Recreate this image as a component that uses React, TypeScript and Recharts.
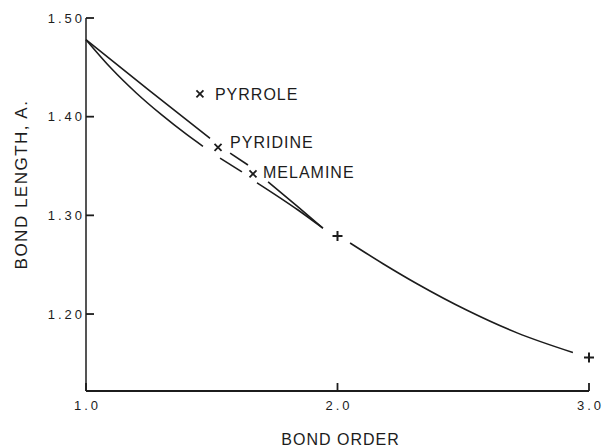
import { ComposedChart, Line, Scatter, XAxis, YAxis } from 'recharts';

const INK = '#1c1c1c';
const FONT = '"Liberation Sans", Arial, sans-serif';

const xTicks = [1, 2, 3];
const yTicks = [1.2, 1.3, 1.4, 1.5];

// upper curve (nearly straight), broken where the markers sit
const upperAX = [1.0, 1.25, 1.493];
const upperAY = [1.478, 1.427, 1.378];
const upperBX = [1.573, 1.644];
const upperBY = [1.363, 1.351];
const upperCX = [1.724, 1.843, 1.942];
const upperCY = [1.334, 1.3085, 1.287];

// lower curve (bowed), broken the same way
const lowerAX = [1.0, 1.1, 1.2, 1.3, 1.4, 1.465];
const lowerAY = [1.478, 1.449, 1.424, 1.402, 1.382, 1.370];
const lowerBX = [1.533, 1.62];
const lowerBY = [1.358, 1.344];
const lowerCX = [1.68, 1.843, 1.942];
const lowerCY = [1.333, 1.3054, 1.287];

// curve beyond bond order 2
const tailX = [2.05, 2.181, 2.316, 2.515, 2.714, 2.936];
const tailY = [1.272, 1.251, 1.2307, 1.2038, 1.1809, 1.161];

const markerNames = ['PYRROLE', 'PYRIDINE', 'MELAMINE', '', ''];
const markerX = [1.453, 1.525, 1.664, 2.0, 3.0];
const markerY = [1.423, 1.369, 1.342, 1.279, 1.156];
const markerKind = ['x', 'x', 'x', '+', '+'];

const pts = (xs: number[], ys: number[]) => xs.map((x, i) => ({ x, y: ys[i] }));

const segments = [
  pts(upperAX, upperAY),
  pts(upperBX, upperBY),
  pts(upperCX, upperCY),
  pts(lowerAX, lowerAY),
  pts(lowerBX, lowerBY),
  pts(lowerCX, lowerCY),
  pts(tailX, tailY),
];

const markers = markerX.map((x, i) => ({
  x,
  y: markerY[i],
  name: markerNames[i],
  kind: markerKind[i],
}));

// where each name sits relative to its marker
const labelShift: Record<string, [number, number]> = {
  PYRROLE: [15, 0],
  PYRIDINE: [12, -5],
  MELAMINE: [10, -2],
};

function Marker(props: any) {
  const { cx, cy, payload } = props;
  if (cx == null || cy == null) return null;
  const shift = labelShift[payload.name] || [0, 0];
  return (
    <g>
      {payload.kind === 'x' ? (
        <path
          d={`M${cx - 3.5},${cy - 3.5}L${cx + 3.5},${cy + 3.5}M${cx - 3.5},${cy + 3.5}L${cx + 3.5},${cy - 3.5}`}
          stroke={INK}
          strokeWidth={1.8}
        />
      ) : (
        <path
          d={`M${cx - 5},${cy}L${cx + 5},${cy}M${cx},${cy - 5}L${cx},${cy + 5}`}
          stroke={INK}
          strokeWidth={2}
        />
      )}
      {payload.name && (
        <text
          x={cx + shift[0]}
          y={cy + shift[1] + 6}
          fontFamily={FONT}
          fontSize={16}
          letterSpacing={1}
          fill={INK}
        >
          {payload.name}
        </text>
      )}
    </g>
  );
}

function YTick(props: any) {
  const { x, y, payload } = props;
  return (
    <g>
      <line x1={x} x2={x + 8} y1={y} y2={y} stroke={INK} strokeWidth={1.8} />
      <text x={x - 1} y={y + 4.5} textAnchor="end" fontFamily={FONT} fontSize={13} letterSpacing={3} fill={INK}>
        {payload.value.toFixed(2)}
      </text>
    </g>
  );
}

function XTick(props: any) {
  const { x, y, payload } = props;
  return (
    <g>
      <line x1={x} x2={x} y1={y} y2={y - 8} stroke={INK} strokeWidth={1.8} />
      <text x={x + 1.5} y={y + 19} textAnchor="middle" fontFamily={FONT} fontSize={13} letterSpacing={3} fill={INK}>
        {payload.value.toFixed(1)}
      </text>
    </g>
  );
}

export default function App() {
  return (
    <div style={{ position: 'absolute', left: 0, top: 0, background: '#fff' }}>
      <ComposedChart width={605} height={447} margin={{ top: 18, right: 16, left: 0, bottom: 0 }}>
        <XAxis
          dataKey="x"
          type="number"
          domain={[1, 3]}
          ticks={xTicks}
          height={56}
          tickSize={0}
          tickMargin={0}
          tickLine={false}
          tick={<XTick />}
          axisLine={{ stroke: INK, strokeWidth: 2 }}
          label={(p: any) => {
            const vb = p.viewBox || {};
            return (
              <text
                x={vb.x + vb.width / 2 + 3}
                y={vb.y + vb.height - 2}
                textAnchor="middle"
                fontFamily={FONT}
                fontSize={16}
                letterSpacing={1}
                fill={INK}
              >
                BOND ORDER
              </text>
            );
          }}
        />
        <YAxis
          dataKey="y"
          type="number"
          domain={[1.122, 1.5]}
          ticks={yTicks}
          width={86}
          tickSize={0}
          tickMargin={0}
          tickLine={false}
          tick={<YTick />}
          axisLine={{ stroke: INK, strokeWidth: 1.5 }}
          label={(p: any) => {
            const vb = p.viewBox || {};
            const cx = 27;
            const cy = vb.y + vb.height / 2 - 20;
            return (
              <text
                x={cx}
                y={cy}
                transform={`rotate(-90 ${cx} ${cy})`}
                textAnchor="middle"
                fontFamily={FONT}
                fontSize={17}
                letterSpacing={1.5}
                fill={INK}
              >
                BOND LENGTH, A.
              </text>
            );
          }}
        />
        {segments.map((seg, i) => (
          <Line
            key={i}
            data={seg}
            dataKey="y"
            type="monotone"
            stroke={INK}
            strokeWidth={1.6}
            dot={false}
            activeDot={false}
            isAnimationActive={false}
          />
        ))}
        <Scatter data={markers} dataKey="y" shape={<Marker />} isAnimationActive={false} />
      </ComposedChart>
    </div>
  );
}
